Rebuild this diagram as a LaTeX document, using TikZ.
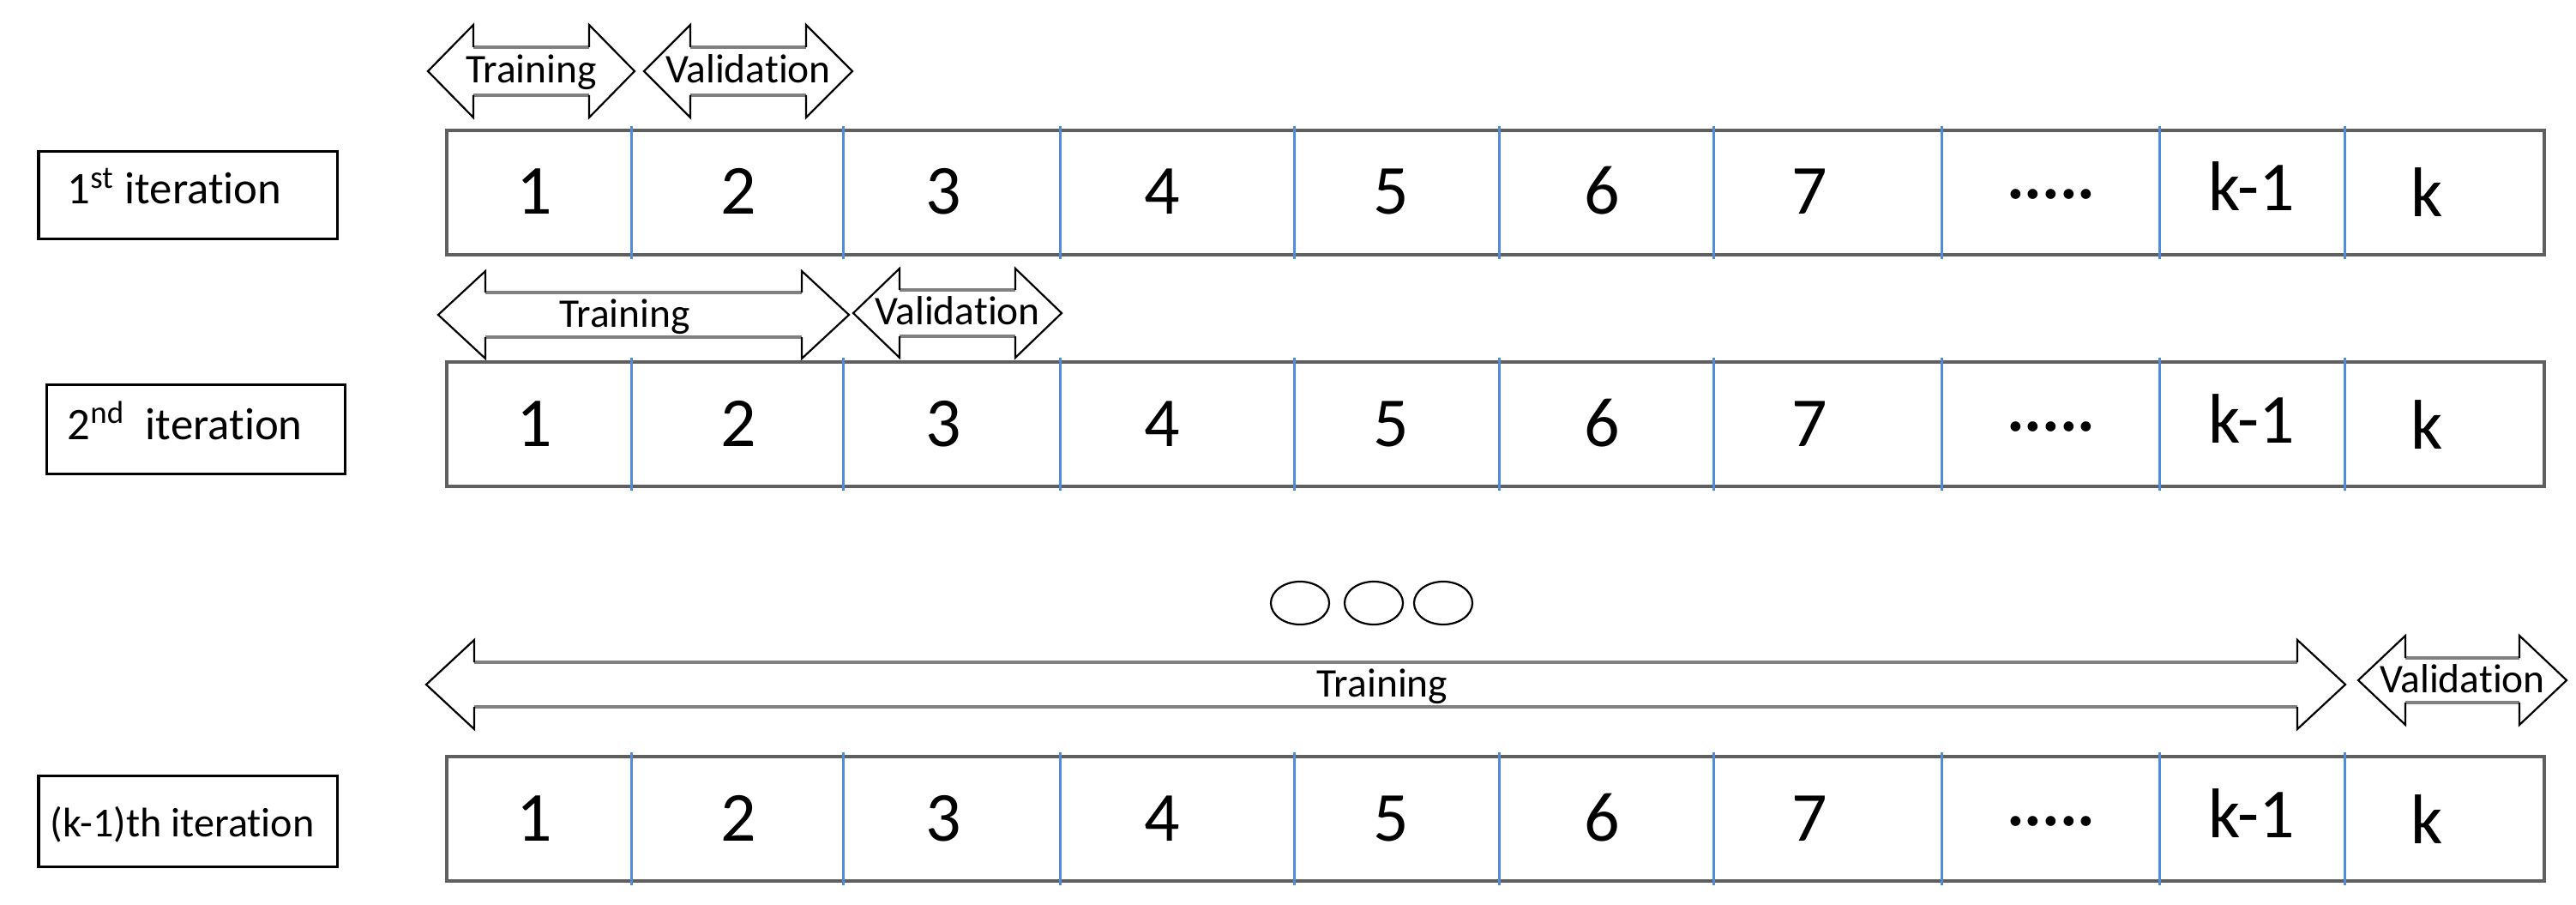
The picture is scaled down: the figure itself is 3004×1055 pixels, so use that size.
\documentclass[tikz,border=0pt]{standalone}
\usepackage{fontspec}
\setmainfont{Carlito}[Ligatures={NoCommon,NoContextual}]
\usetikzlibrary{shapes.geometric}
\definecolor{bargray}{RGB}{95,95,95}
\definecolor{shaftgray}{RGB}{128,128,128}
\definecolor{divblue}{RGB}{80,140,215}
\tikzset{
 barline/.style={draw=bargray, line width=0.045cm},
 divline/.style={draw=divblue, line width=0.03cm},
 headline/.style={draw=black, line width=0.022cm, line join=miter},
 shaftline/.style={draw=shaftgray, line width=0.045cm},
 celltext/.style={anchor=base, inner sep=0, font=\fontsize{23.3}{28}\selectfont},
 arrtext/.style={anchor=base, inner sep=0, font=\fontsize{13.5}{16}\selectfont},
 lbltext/.style={anchor=base west, inner sep=0, font=\fontsize{15}{18}\selectfont},
 lblbox/.style={draw=black, line width=0.03cm},
 dotell/.style={ellipse, draw=black, line width=0.022cm, minimum width=0.68cm, minimum height=0.5cm, inner sep=0},
}
% name, x1, x2, yc, half height, half shaft, head length, label, text x offset
\newcommand\dblarrow[9]{%
 \fill[white] (#2,#4) -- ({#2+#7},{#4-#5}) -- ({#2+#7},{#4-#6}) -- ({#3-#7},{#4-#6}) -- ({#3-#7},{#4-#5}) -- (#3,#4) -- ({#3-#7},{#4+#5}) -- ({#3-#7},{#4+#6}) -- ({#2+#7},{#4+#6}) -- ({#2+#7},{#4+#5}) -- cycle;
 \draw[shaftline] ({#2+#7},{#4-#6}) -- ({#3-#7},{#4-#6}) ({#2+#7},{#4+#6}) -- ({#3-#7},{#4+#6});
 \draw[headline] ({#2+#7},{#4-#6}) -- ({#2+#7},{#4-#5}) -- (#2,#4) -- ({#2+#7},{#4+#5}) -- ({#2+#7},{#4+#6});
 \draw[headline] ({#3-#7},{#4-#6}) -- ({#3-#7},{#4-#5}) -- (#3,#4) -- ({#3-#7},{#4+#5}) -- ({#3-#7},{#4+#6});
 \node[arrtext] (#1) at ({(#2+#3)/2+#9},{#4+14}) {#8};
}
% row name, top y
\newcommand\kbar[2]{%
 \draw[barline] (521,#2) rectangle (2967,{#2+145});
 \foreach \x in {736,983,1236,1509,1748,1998,2264,2518,2734} \draw[divline] (\x,{#2-5}) -- (\x,{#2+150});
 \foreach \n/\x/\t in {1/623/1,2/861/2,3/1100/3,4/1355/4,5/1622/5,6/1868/6,7/2110/7} \node[celltext] (#1c\n) at (\x,{#2+98}) {\t};
 \node[celltext] (#1c8) at (2392,{#2+98}) {·····};
 \node[celltext] (#1c9) at (2626,{#2+94}) {k-1};
 \node[celltext] (#1c10) at (2830,{#2+101}) {k};
}
\begin{document}
\begin{tikzpicture}[x=0.01cm,y=-0.01cm]
\fill[white] (0,0) rectangle (3004,1055);
\useasboundingbox (0,0) rectangle (3004,1055);
% row 1
\dblarrow{r1train}{499}{740}{83}{54}{28}{53}{Training}{0}
\dblarrow{r1valid}{751}{994}{83}{54}{28}{54}{Validation}{0}
\kbar{r1}{152}
\draw[lblbox] (45,177) rectangle (393,279);
\node[lbltext] (it1) at (78,238) {1\textsuperscript{st} iteration};
% row 2
\dblarrow{r2train}{511}{990}{367}{51}{26}{55}{Training}{-22}
\dblarrow{r2valid}{995}{1238}{365}{52}{27}{54}{Validation}{0}
\kbar{r2}{422}
\draw[lblbox] (54,448) rectangle (402,552);
\node[lbltext] (it2) at (78,512) {2\textsuperscript{nd}\ \ iteration};
% ellipses
\node[dotell] (e1) at (1516,703) {};
\node[dotell] (e2) at (1602,703) {};
\node[dotell] (e3) at (1683,703) {};
% row 3
\dblarrow{r3train}{497}{2735}{798}{52}{26}{56}{Training}{-4}
\dblarrow{r3valid}{2750}{2993}{793}{52}{26}{55}{Validation}{0}
\kbar{r3}{882}
\draw[lblbox] (45,904) rectangle (393,1010);
\node[lbltext, font=\fontsize{13.7}{16}\selectfont] (it3) at (58,975) {(k-1)th iteration};
\end{tikzpicture}
\end{document}
